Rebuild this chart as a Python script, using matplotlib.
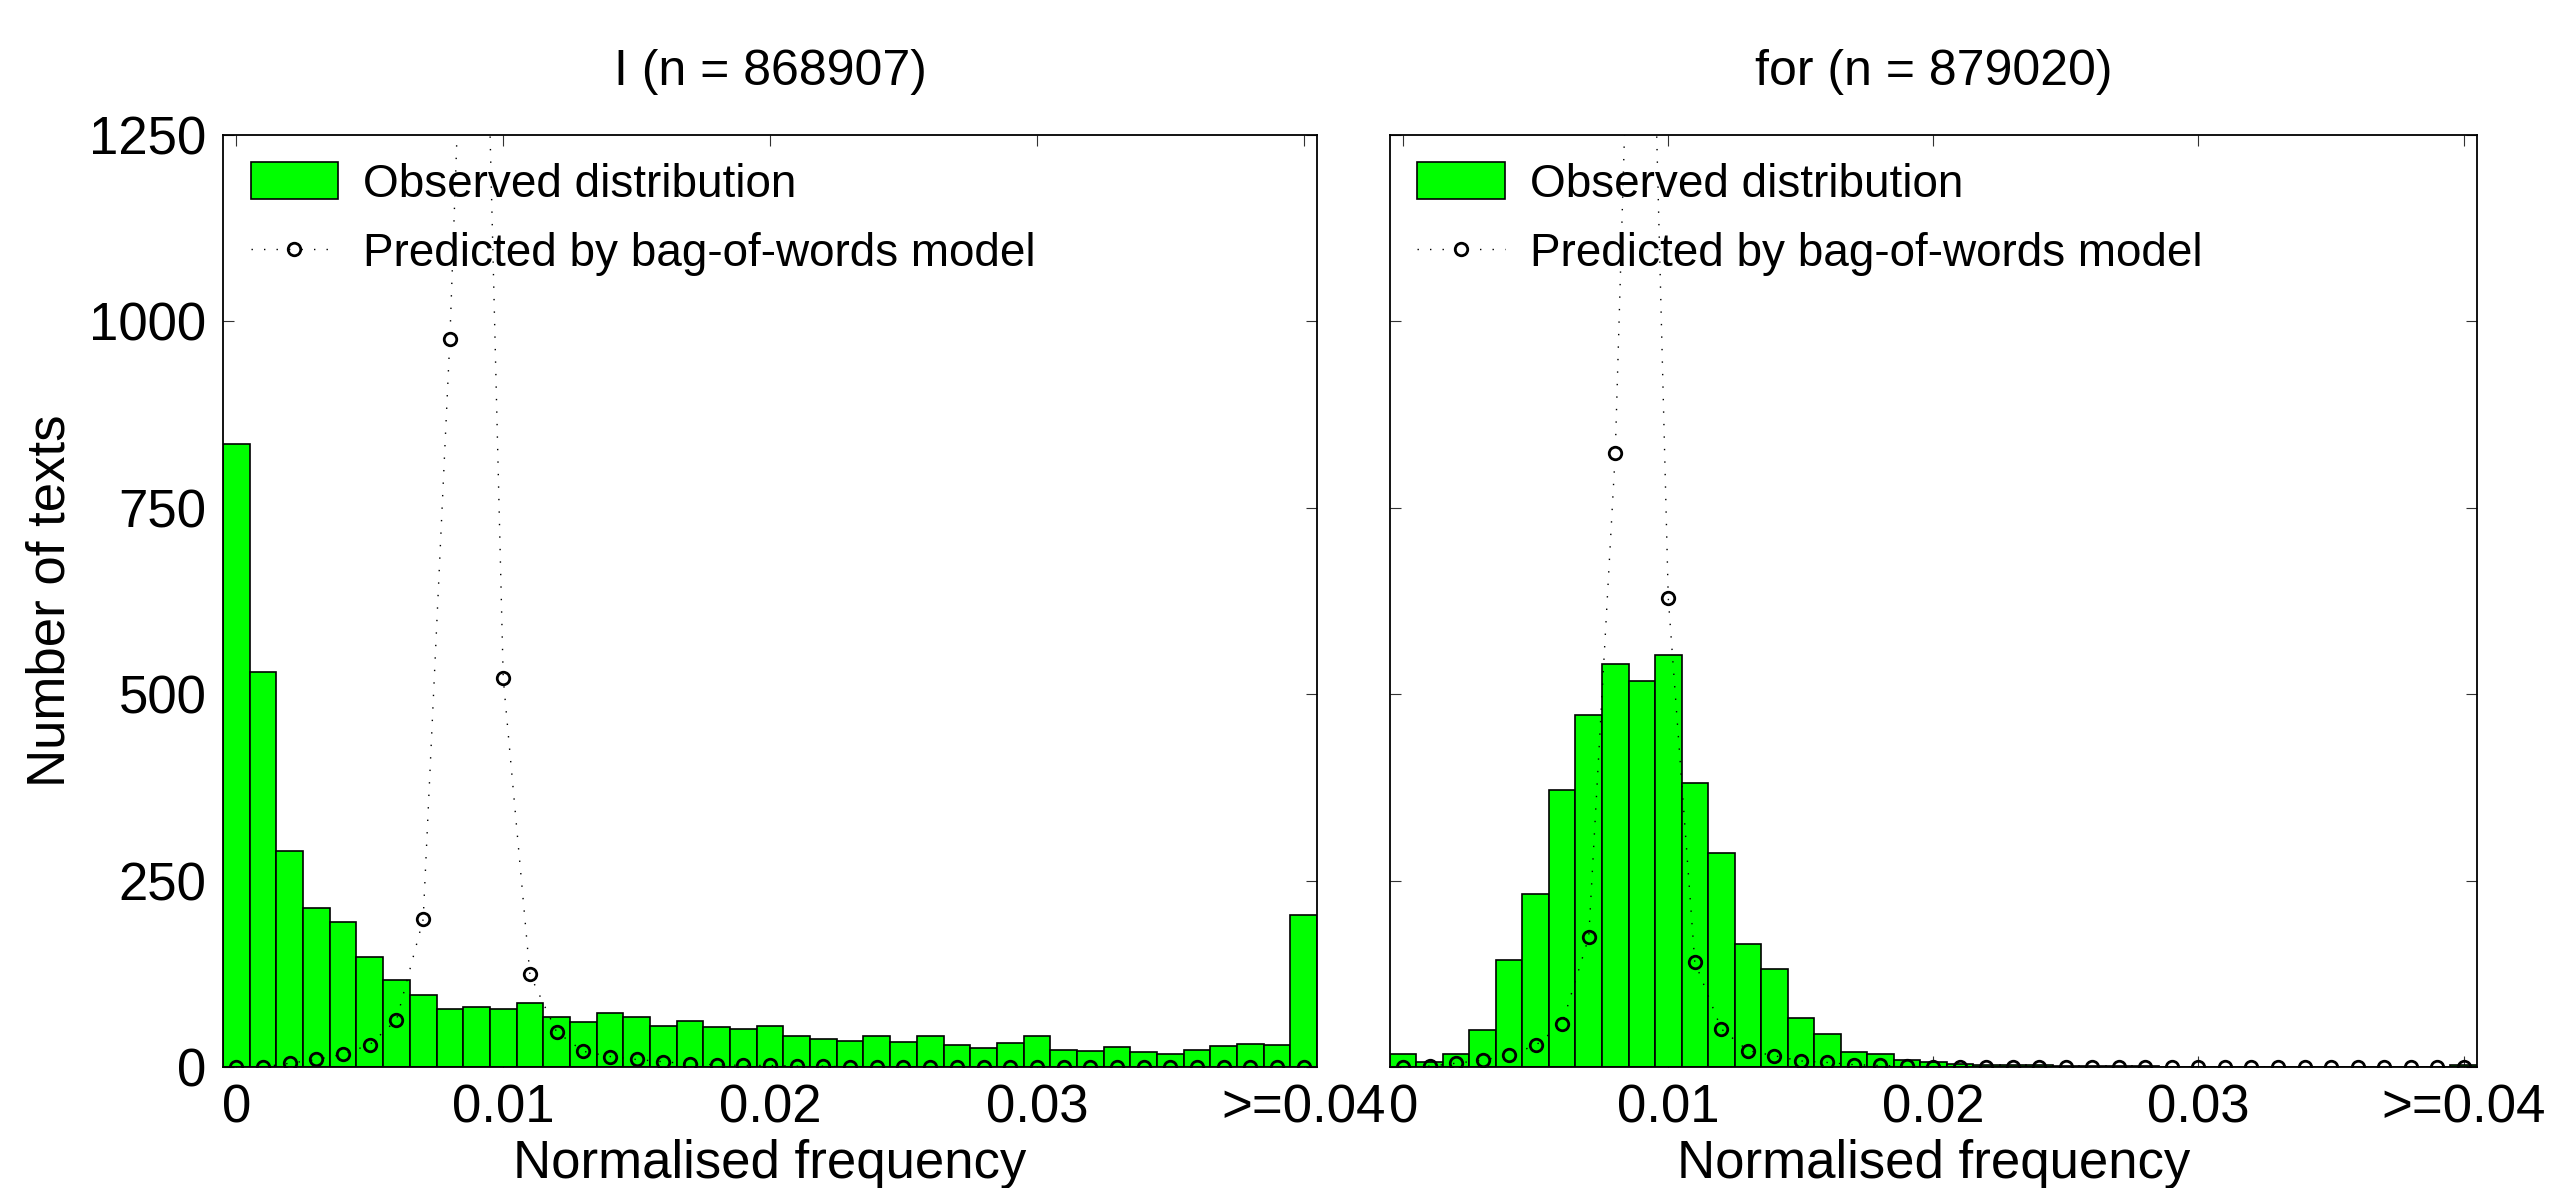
import numpy as np
import matplotlib
matplotlib.use("Agg")
from matplotlib import pyplot as plt

plt.rcParams['font.family'] = ['Liberation Sans', 'DejaVu Sans']

# bin centres: 0, 0.001, ..., 0.04 (last bin is ">= 0.04")
bins = np.arange(41) * 0.001
tick_vals = [0, 0.01, 0.02, 0.03, 0.04]
tick_labels = ['0', '0.01', '0.02', '0.03', '>=0.04']

titles = ['I (n = 868907)', 'for (n = 879020)']

# observed number of texts per bin
obs_I = [835, 530, 290, 213, 194, 147, 117, 96, 78, 80,
         78, 86, 67, 60, 73, 67, 55, 62, 53, 51,
         55, 42, 37, 35, 41, 34, 42, 30, 25, 32,
         42, 23, 21, 27, 20, 17, 23, 28, 31, 29,
         204]
obs_for = [18, 6, 17, 49, 143, 232, 371, 472, 541, 518,
           552, 381, 287, 165, 132, 66, 44, 20, 17, 9,
           7, 4, 2, 2, 3, 1, 1, 1, 1, 0,
           0, 0, 0, 0, 0, 0, 0, 0, 0, 0,
           3]

# predicted by bag-of-words model
pred_I = [0, 0, 5, 10, 17, 30, 63, 198, 976, 2000,
          521, 124, 47, 21, 14, 10, 7, 4, 3, 2,
          2, 1, 1, 0, 0, 0, 0, 0, 0, 0,
          0, 0, 0, 0, 0, 0, 0, 0, 0, 0,
          0]
pred_for = [0, 1, 5, 9, 16, 29, 58, 174, 823, 2050,
            629, 141, 51, 22, 15, 8, 6, 3, 2, 1,
            0, 0, 0, 0, 0, 0, 0, 0, 0, 0,
            0, 0, 0, 0, 0, 0, 0, 0, 0, 0,
            0]

FS = 38

fig = plt.figure(figsize=(25.55, 11.88), dpi=100)
ax1 = fig.add_axes([0.0873, 0.1019, 0.4282, 0.7845])
ax2 = fig.add_axes([0.5440, 0.1019, 0.4254, 0.7845])

for ax, obs, pred, title in [(ax1, obs_I, pred_I, titles[0]),
                             (ax2, obs_for, pred_for, titles[1])]:
    bars = ax.bar(bins, obs, width=0.001, color='#00ff00', edgecolor='black',
                  linewidth=1.2, zorder=2)
    line, = ax.plot(bins, pred, color='black', linestyle=(0, (1, 8)), linewidth=1.0,
                    marker='o', markersize=9, markerfacecolor='none',
                    markeredgecolor='black', markeredgewidth=2.0, zorder=3)
    ax.set_xlim(-0.0005, 0.0405)
    ax.set_ylim(0, 1250)
    ax.set_xticks(tick_vals)
    ax.set_xticklabels(tick_labels)
    ax.set_yticks([0, 250, 500, 750, 1000, 1250])
    ax.tick_params(direction='in', top=True, right=True, length=8,
                   width=0.8, labelsize=FS, pad=12, color='#333333')
    for sp in ax.spines.values():
        sp.set_linewidth(1.3)
    ax.set_title(title, fontsize=36, pad=36)
    ax.set_xlabel('Normalised frequency', fontsize=FS, labelpad=4)
    ax.legend([bars, line], ['Observed distribution', 'Predicted by bag-of-words model'],
              loc='upper left', fontsize=33, frameon=False,
              handlelength=1.9, handleheight=0.85, handletextpad=0.55,
              labelspacing=0.55, borderaxespad=0.4, borderpad=0.2)

ax1.set_ylabel('Number of texts', fontsize=FS, labelpad=10)
ax2.set_yticklabels([])

fig.savefig('out.png', dpi=100)
